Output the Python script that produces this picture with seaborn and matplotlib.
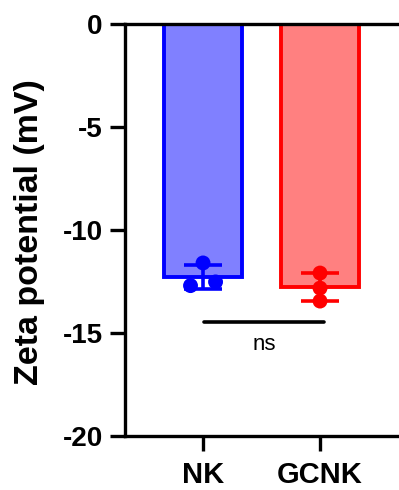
import numpy as np
import pandas as pd
import matplotlib
matplotlib.use("Agg")
import matplotlib.pyplot as plt
import seaborn as sns

categories = ["NK", "GCNK"]
nk_values = [-11.60, -12.70, -12.52]
gcnk_values = [-12.09, -12.82, -13.45]
edge_colors = ["#0000FF", "#FF0000"]
fill_colors = ["#8080FF", "#FF8080"]
y_ticks = [0, -5, -10, -15, -20]
y_label = "Zeta potential (mV)"
sig_text = "ns"

df = pd.DataFrame({
    "group": ["NK"] * len(nk_values) + ["GCNK"] * len(gcnk_values),
    "value": nk_values + gcnk_values,
})

sns.set_style("ticks")
plt.rcParams["font.family"] = ["Liberation Sans", "DejaVu Sans"]
plt.rcParams["text.color"] = "black"
plt.rcParams["axes.labelcolor"] = "black"
plt.rcParams["xtick.color"] = "black"
plt.rcParams["ytick.color"] = "black"

fig = plt.figure(figsize=(3.99, 4.90), dpi=100)
ax = fig.add_axes([125 / 399, 1 - 436 / 490, 274 / 399, 412 / 490])

sns.barplot(data=df, x="group", y="value", order=categories, hue="group",
            palette=fill_colors, errorbar=None, width=0.67, ax=ax,
            legend=False, linewidth=2.8, saturation=1)
for patch, ec in zip(ax.patches, edge_colors):
    patch.set_edgecolor(ec)

# error bars (mean ± SD)
for i, (cat, ec) in enumerate(zip(categories, edge_colors)):
    vals = df.loc[df.group == cat, "value"]
    ax.errorbar(i, vals.mean(), yerr=vals.std(ddof=1), color=ec,
                capsize=14, capthick=2.6, elinewidth=2.6, zorder=4)

# individual points (horizontal spread like a scatter-dot plot)
spread = {"NK": [0.0, -0.107, 0.107], "GCNK": [0.0, 0.0, 0.0]}
pts = df.copy()
pts["x"] = [categories.index(g) for g in pts["group"]]
pts["x"] = pts["x"] + np.concatenate([spread[c] for c in categories])
sns.scatterplot(data=pts, x="x", y="value", hue="group", palette=edge_colors,
                hue_order=categories, s=115, linewidth=0, ax=ax, legend=False,
                zorder=5)

ax.set_ylim(-20, 0)
ax.set_xlim(-0.667, 1.675)
ax.set_xticks(range(len(categories)))
ax.set_xticklabels(categories)
ax.set_yticks(y_ticks)
ax.set_yticklabels([str(t) for t in y_ticks])
ax.set_xlabel("")
ax.set_ylabel("")
fig.text(30 / 399, 1 - 232 / 490, y_label, rotation=90, ha="center",
         va="center", fontsize=24.5, fontweight="bold")
for lab in ax.get_xticklabels() + ax.get_yticklabels():
    lab.set_fontweight("bold")
ax.tick_params(axis="both", width=2.4, length=11, color="black")
ax.tick_params(axis="y", pad=5, labelsize=20)
ax.tick_params(axis="x", pad=7, labelsize=21)

for s in ["left", "bottom", "top"]:
    ax.spines[s].set_linewidth(2.4)
    ax.spines[s].set_color("black")
ax.spines["right"].set_visible(False)

# significance line
ax.plot([0.01, 1.035], [-14.49, -14.49], color="black", lw=2.6)
ax.text(0.52, -15.83, sig_text, ha="center", va="baseline", fontsize=16)

fig.savefig("out.png", dpi=100)
